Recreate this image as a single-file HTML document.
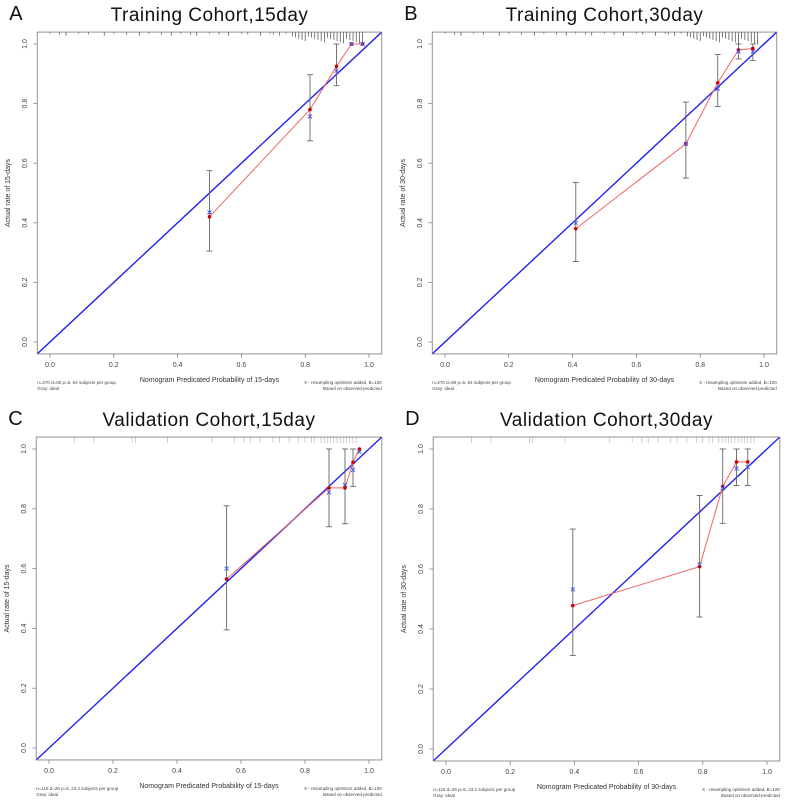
<!DOCTYPE html>
<html><head><meta charset="utf-8"><style>
html,body{margin:0;padding:0;background:#fff;}
svg{display:block;font-family:"Liberation Sans",sans-serif;}
</style></head><body>
<svg id="chart" width="789" height="804" viewBox="0 0 789 804" xmlns="http://www.w3.org/2000/svg"></svg>
<script>
// ---- data ----
const titles = ["Training Cohort,15day","Training Cohort,30day","Validation Cohort,15day","Validation Cohort,30day"];
const letters = ["A","B","C","D"];
const xTickLabels = ["0.0","0.2","0.4","0.6","0.8","1.0"];
const yTickLabels = ["0.0","0.2","0.4","0.6","0.8","1.0"];
const xTitles = ["Nomogram Predicated Probability of 15-days","Nomogram Predicated Probability of 30-days","Nomogram Predicated Probability of 15-days","Nomogram Predicated Probability of 30-days"];
const yTitles = ["Actual rate of 15-days","Actual rate of 30-days","Actual rate of 15-days","Actual rate of 30-days"];
const footLeft = ["n=270 d=80 p=5, 54 subjects per group","n=270 d=80 p=5, 54 subjects per group","n=116 d=26 p=5, 23.2 subjects per group","n=116 d=26 p=5, 23.2 subjects per group"];
// predicted, observed (red), bias-corrected (blue x), CI low, CI high
const predA = [0.50,0.815,0.898,0.945,0.98];
const obsA  = [0.42,0.78,0.925,1.0,1.0];
const corrA = [0.435,0.757,0.91,1.0,1.0];
const loA   = [0.305,0.675,0.86,null,null];
const hiA   = [0.575,0.897,1.0,null,null];
const predB = [0.41,0.755,0.855,0.92,0.965];
const obsB  = [0.38,0.665,0.87,0.98,0.985];
const corrB = [0.40,0.665,0.85,0.975,0.975];
const loB   = [0.27,0.55,0.79,0.95,0.945];
const hiB   = [0.535,0.805,0.965,1.0,1.0];
const predC = [0.555,0.875,0.925,0.95,0.97];
const obsC  = [0.565,0.87,0.87,0.955,1.0];
const corrC = [0.60,0.855,0.88,0.93,0.99];
const loC   = [0.395,0.74,0.75,0.875,null];
const hiC   = [0.81,1.0,1.0,1.0,null];
const predD = [0.395,0.79,0.862,0.905,0.94];
const obsD  = [0.478,0.608,0.875,0.957,0.957];
const corrD = [0.532,0.615,0.87,0.935,0.94];
const loD   = [0.312,0.44,0.752,0.878,0.878];
const hiD   = [0.733,0.845,1.0,1.0,1.0];
const rugTrain = [0.0,0.03,0.05,0.09,0.12,0.17,0.2,0.24,0.28,0.31,0.35,0.38,0.41,0.44,0.46,0.5,0.53,0.56,0.6,0.62,0.66,0.69,0.7,0.72,0.74,0.76,0.77,0.78,0.79,0.8,0.81,0.82,0.83,0.84,0.85,0.86,0.87,0.88,0.89,0.9,0.91,0.92,0.93,0.94,0.95,0.96,0.97,0.98];
const rugValid = [0.08,0.14,0.26,0.27,0.37,0.51,0.58,0.61,0.63,0.66,0.7,0.72,0.75,0.78,0.8,0.82,0.83,0.85,0.86,0.87,0.88,0.89,0.9,0.91,0.92,0.93,0.94,0.95,0.96];

const panels = [
 {x0:50,x1:369,y1:44,y0:342,pred:predA,obs:obsA,corr:corrA,lo:loA,hi:hiA,rug:rugTrain,rugCol:"#444"},
 {x0:445,x1:764,y1:44,y0:342,pred:predB,obs:obsB,corr:corrB,lo:loB,hi:hiB,rug:rugTrain,rugCol:"#444"},
 {x0:49,x1:369,y1:449,y0:748,pred:predC,obs:obsC,corr:corrC,lo:loC,hi:hiC,rug:rugValid,rugCol:"#bbb"},
 {x0:446,x1:767,y1:449,y0:749,pred:predD,obs:obsD,corr:corrD,lo:loD,hi:hiD,rug:rugValid,rugCol:"#bbb"}
];
const svg = document.getElementById('chart');
const NS = "http://www.w3.org/2000/svg";
function mk(tag, attrs, parent, text){
  const e=document.createElementNS(NS,tag);
  for(const k in attrs) e.setAttribute(k,attrs[k]);
  if(text!==undefined) e.textContent=text;
  parent.appendChild(e); return e;
}
panels.forEach((p,i)=>{
  const g=mk('g',{},svg);
  
  
  const sx=v=>p.x0+(p.x1-p.x0)*v;
  const sy=v=>p.y0-(p.y0-p.y1)*v;
  const L=sx(-0.04),R=sx(1.04),T=sy(1.04),B=sy(-0.04);
  const cx=(L+R)/2;
  let t=mk('text',{x:L-28,y:T-12,'font-size':20,fill:'#111'},g,letters[i]);
  
  
  t=mk('text',{x:cx,y:T-11,'font-size':19,'text-anchor':'middle',fill:'#111','letter-spacing':'0.5'},g,titles[i]);
  
  
  // rug
  p.rug.forEach((v,j)=>{
    const h = p.rugCol==="#444" ? (v>0.75? 3+((j*7)%6)+ (v-0.75)*20 : 1.5+(j%3)) : 6;
    const r=mk('line',{x1:sx(v),x2:sx(v),y1:T,y2:T+h,stroke:p.rugCol,'stroke-width':0.7},g);
    
    
  });
  const cid='clip'+i;
  const cp=mk('clipPath',{id:cid},g); mk('rect',{x:L,y:T,width:R-L,height:B-T},cp);
  let ln=mk('line',{x1:sx(-0.04),y1:sy(-0.04),x2:sx(1.04),y2:sy(1.04),stroke:'#2222ee','stroke-width':1.4,'clip-path':'url(#'+cid+')'},g);
  
  
  p.pred.forEach((v,j)=>{
    if(p.lo[j]===null) return;
    const x=sx(v);
    const eg=mk('g',{stroke:'#666','stroke-width':0.9},g);
    
    
    mk('line',{x1:x,x2:x,y1:sy(p.lo[j]),y2:sy(p.hi[j])},eg);
    mk('line',{x1:x-3,x2:x+3,y1:sy(p.lo[j]),y2:sy(p.lo[j])},eg);
    mk('line',{x1:x-3,x2:x+3,y1:sy(p.hi[j]),y2:sy(p.hi[j])},eg);
  });
  let pts=p.pred.map((v,j)=>sx(v)+','+sy(p.obs[j])).join(' ');
  ln=mk('polyline',{points:pts,fill:'none',stroke:'#ee6666','stroke-width':1},g);
  
  
  p.pred.forEach((v,j)=>{
    const c=mk('circle',{cx:sx(v),cy:sy(p.obs[j]),r:1.8,fill:'#cc0000'},g);
    
    
    const x=sx(v),y=sy(p.corr[j]);
    const xm=mk('path',{d:`M${x-2},${y-2}L${x+2},${y+2}M${x-2},${y+2}L${x+2},${y-2}`,stroke:'#4455ee','stroke-width':0.9},g);
    
    
  });
  let bx=mk('rect',{x:L,y:T,width:R-L,height:B-T,fill:'none',stroke:'#777','stroke-width':0.8},g);
  
  
  xTickLabels.forEach((lab,j)=>{
    const v=j*0.2,x=sx(v);
    mk('line',{x1:x,x2:x,y1:B,y2:B+4,stroke:'#777','stroke-width':0.7},g);
    const tx=mk('text',{x:x,y:B+13,'font-size':7,'text-anchor':'middle',fill:'#444'},g,lab);
    
    
  });
  yTickLabels.forEach((lab,j)=>{
    const v=j*0.2,y=sy(v);
    mk('line',{x1:L-4,x2:L,y1:y,y2:y,stroke:'#777','stroke-width':0.7},g);
    const tx=mk('text',{x:L-10,y:y,'font-size':7,'text-anchor':'middle',fill:'#444',transform:`rotate(-90 ${L-10} ${y})`},g,lab);
    
    
  });
  t=mk('text',{x:cx,y:B+28,'font-size':7,'text-anchor':'middle',fill:'#333'},g,xTitles[i]);
  
  
  const yy=(T+B)/2;
  t=mk('text',{x:L-27,y:yy,'font-size':7,'text-anchor':'middle',fill:'#333',transform:`rotate(-90 ${L-27} ${yy})`},g,yTitles[i]);
  
  
  const fg=mk('g',{'font-size':4.5,fill:'#444'},g);
  
  
  mk('text',{x:L,y:B+30},fg,footLeft[i]);
  mk('text',{x:L,y:B+36},fg,'Gray: ideal');
  mk('text',{x:R,y:B+30,'text-anchor':'end'},fg,'X - resampling optimism added, B=100');
  mk('text',{x:R,y:B+36,'text-anchor':'end'},fg,'Based on observed-predicted');
});
</script>
</body></html>
